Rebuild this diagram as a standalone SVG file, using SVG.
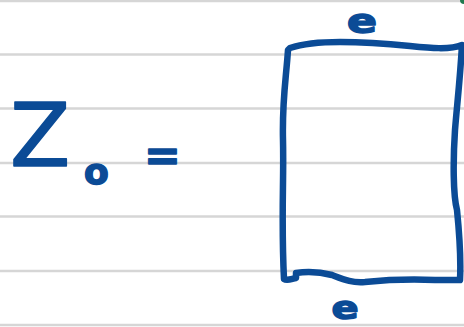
<svg xmlns="http://www.w3.org/2000/svg" width="464" height="327" viewBox="0 0 464 327">
<style>
.rule{stroke:#d6d6d6;stroke-width:2.5;fill:none}
.ink{stroke:#0b4b96;stroke-width:6.5;fill:none;stroke-linecap:round;stroke-linejoin:round}
.txt{fill:#0b4b96;font-family:"DejaVu Sans",sans-serif;stroke:#0b4b96;stroke-linejoin:round}
</style>
<rect width="464" height="327" fill="#ffffff"/>
<g id="ruled-lines">
<line class="rule" x1="0" y1="1" x2="464" y2="1"/>
<line class="rule" x1="0" y1="54.5" x2="464" y2="54.5"/>
<line class="rule" x1="0" y1="108.5" x2="464" y2="108.5"/>
<line class="rule" x1="0" y1="163" x2="464" y2="163"/>
<line class="rule" x1="0" y1="216.5" x2="464" y2="216.5"/>
<line class="rule" x1="0" y1="271" x2="464" y2="271"/>
<line class="rule" x1="0" y1="325" x2="464" y2="325"/>
</g>
<circle cx="464" cy="0" r="4" fill="#1f7a4f"/>
<g id="formula">
<text class="txt" x="10" y="166" font-size="88" stroke-width="1.5">Z</text>
<text class="txt" x="84" y="184" font-size="36" font-weight="bold" stroke-width="1.5">o</text>
<text class="txt" x="144" y="170" font-size="44" font-weight="bold" stroke-width="1.5">=</text>
</g>
<g id="rectangle">
<path class="ink" d="M288,50 C286,80 282,100 283,140 C284,180 281,220 284,279 C287,281 291,279 296,278 L296,273 C310,271 320,272 332,275 C345,280 352,283 365,282 C385,280 410,279 435,280 L460,280 C461,260 459,230 457,210 C453,195 453,160 455,130 C457,105 460,80 462,45 C450,50 430,48 410,46 C390,44 370,42 340,42 C320,42 305,43 290,48 Z"/>
</g>
<g id="labels">
<text class="txt" transform="translate(362,33) scale(1.3,1)" x="0" y="0" font-size="34" font-weight="bold" text-anchor="middle" stroke-width="1.5">e</text>
<text class="txt" transform="translate(345,319) scale(1.25,1)" x="0" y="0" font-size="32" font-weight="bold" text-anchor="middle" stroke-width="1.5">e</text>
</g>
</svg>
